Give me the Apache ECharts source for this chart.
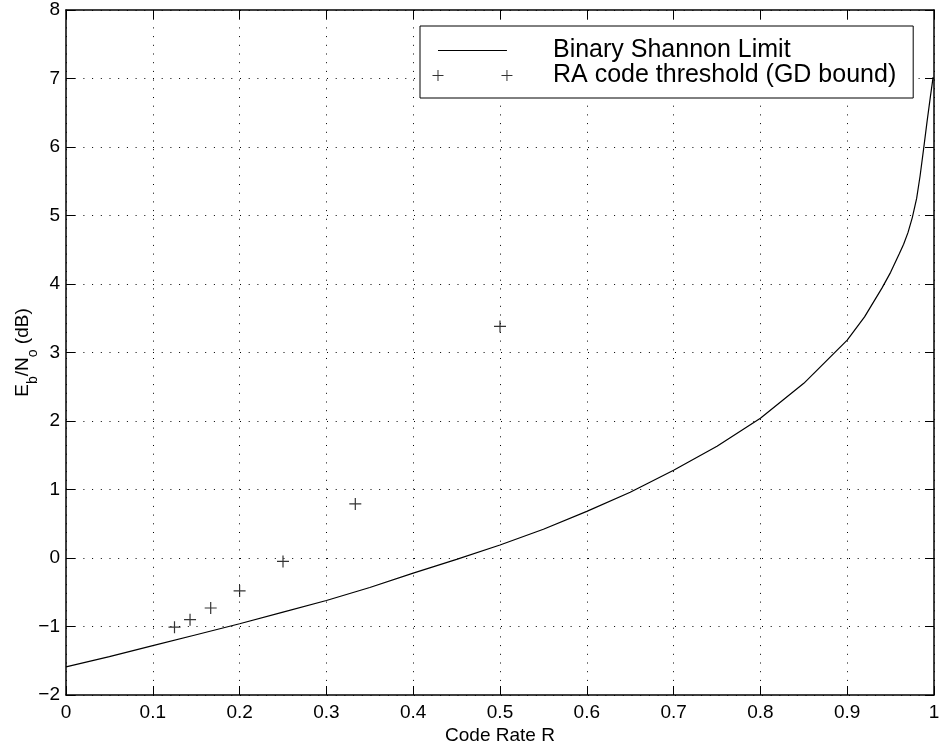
<!DOCTYPE html>
<html>
<head>
<meta charset="utf-8">
<script src="https://cdn.jsdelivr.net/npm/echarts@6/dist/echarts.min.js"></script>
<style>
html,body{margin:0;padding:0;background:#fff;}
#chart{width:939px;height:750px;}
</style>
</head>
<body>
<div id="chart"></div>
<script>
// ---- data ----
const shannonRate = [0, 0.05, 0.1, 0.15, 0.2, 0.25, 0.3, 0.35, 0.4, 0.45, 0.5, 0.55, 0.6, 0.65, 0.7, 0.75, 0.8, 0.85, 0.9, 0.92, 0.94, 0.95, 0.96, 0.965, 0.97, 0.975, 0.98, 0.984, 0.988, 0.992, 0.996, 0.999];
const shannonEbNo = [-1.59, -1.44, -1.28, -1.12, -0.96, -0.79, -0.62, -0.43, -0.22, -0.02, 0.19, 0.42, 0.68, 0.96, 1.28, 1.63, 2.04, 2.55, 3.18, 3.52, 3.94, 4.17, 4.44, 4.58, 4.75, 4.97, 5.25, 5.58, 5.97, 6.37, 6.75, 7.02];
const raRate = [0.125, 0.1429, 0.1667, 0.2, 0.25, 0.3333, 0.5];
const raEbNo = [-1.01, -0.90, -0.73, -0.48, -0.05, 0.79, 3.38];
const seriesNames = ['Binary Shannon Limit', 'RA code threshold (GD bound)'];
const xTickLabels = ['0', '0.1', '0.2', '0.3', '0.4', '0.5', '0.6', '0.7', '0.8', '0.9', '1'];
const yTickLabels = ['\u22122', '\u22121', '0', '1', '2', '3', '4', '5', '6', '7', '8'];
const xTitle = 'Code Rate R';

const FONT = "'Liberation Sans', Arial, Helvetica, sans-serif";
const xMin = 0, xMax = 1, xStep = 0.1;
const yMin = -2, yMax = 8, yStep = 1;

const plusPath = 'path://M0,5.4h12v1.2h-12z M5.4,0h1.2v12h-1.2z';
const legendLineIcon = 'path://M0,0h0.01v0.01h-0.01z M116,14h0.01v0.01h-0.01z M6,6.5h69v1h-69z';
const legendPlusIcon = 'path://M0,0h0.01v0.01h-0.01z M116,14h0.01v0.01h-0.01z M0.5,6.5h11v1h-11z M5.5,1.5h1v11h-1z M69.5,6.5h11v1h-11z M74.5,1.5h1v11h-1z';

const gridDots = {color: '#000', width: 1, type: [1, 7.7]};
const axisLineStyle = {color: '#000', width: 1.5};
const tickStyle = {color: '#000', width: 1};

function xLabel(v) {
  const i = Math.round((v - xMin) / xStep);
  return xTickLabels[i] !== undefined ? xTickLabels[i] : '';
}
function yLabel(v) {
  const i = Math.round((v - yMin) / yStep);
  return yTickLabels[i] !== undefined ? yTickLabels[i] : '';
}

const chart = echarts.init(document.getElementById('chart'), null, {renderer: 'canvas'});
chart.setOption({
  animation: false,
  backgroundColor: '#fff',
  textStyle: {fontFamily: FONT},
  grid: {left: 66, right: 5, top: 10, bottom: 55, containLabel: false, outerBoundsMode: 'none'},
  legend: {
    orient: 'vertical',
    left: 420,
    top: 26,
    padding: [12, 17, 10, 12],
    itemGap: 0,
    itemWidth: 116,
    itemHeight: 14,
    borderColor: '#000',
    borderWidth: 1,
    borderRadius: 0,
    backgroundColor: '#fff',
    selectedMode: false,
    itemStyle: {borderWidth: 0},
    textStyle: {fontSize: 25, lineHeight: 22, color: '#000', fontFamily: FONT},
    data: [
      {name: seriesNames[0], icon: legendLineIcon},
      {name: seriesNames[1], icon: legendPlusIcon}
    ]
  },
  xAxis: [{
    type: 'value', min: xMin, max: xMax, interval: xStep, position: 'bottom',
    name: xTitle, nameLocation: 'middle', nameGap: 31, nameMoveOverlap: false,
    nameTextStyle: {fontSize: 19, color: '#000', fontFamily: FONT},
    axisLine: {show: true, onZero: false, lineStyle: axisLineStyle},
    axisTick: {show: true, inside: true, length: 9, lineStyle: tickStyle},
    axisLabel: {fontSize: 19, color: '#000', margin: 8, formatter: xLabel, fontFamily: FONT},
    splitLine: {show: true, lineStyle: gridDots}
  }, {
    type: 'value', min: xMin, max: xMax, interval: xStep, position: 'top',
    axisLine: {show: true, onZero: false, lineStyle: axisLineStyle},
    axisTick: {show: true, inside: true, length: 9, lineStyle: tickStyle},
    axisLabel: {show: false},
    splitLine: {show: false}
  }],
  yAxis: [{
    type: 'value', min: yMin, max: yMax, interval: yStep, position: 'left',
    name: '{n|E}{s|b}{n|/N}{s|o}{n| (dB)}',
    nameLocation: 'middle', nameRotate: 90, nameGap: 31, nameMoveOverlap: false,
    nameTextStyle: {
      color: '#000', fontFamily: FONT,
      rich: {
        n: {fontSize: 19, color: '#000', fontFamily: FONT, lineHeight: 24, verticalAlign: 'middle'},
        s: {fontSize: 14, color: '#000', fontFamily: FONT, lineHeight: 24, verticalAlign: 'bottom', padding: [0, 0, -5, 0]}
      }
    },
    axisLine: {show: true, onZero: false, lineStyle: axisLineStyle},
    axisTick: {show: true, inside: true, length: 9, lineStyle: tickStyle},
    axisLabel: {fontSize: 19, color: '#000', margin: 6, formatter: yLabel, fontFamily: FONT},
    splitLine: {show: true, lineStyle: gridDots}
  }, {
    type: 'value', min: yMin, max: yMax, interval: yStep, position: 'right',
    axisLine: {show: true, onZero: false, lineStyle: axisLineStyle},
    axisTick: {show: true, inside: true, length: 9, lineStyle: tickStyle},
    axisLabel: {show: false},
    splitLine: {show: false}
  }],
  series: [{
    name: seriesNames[0],
    type: 'line',
    xAxisIndex: 0, yAxisIndex: 0,
    data: shannonRate.map((r, i) => [r, shannonEbNo[i]]),
    showSymbol: false,
    symbol: 'none',
    smooth: false,
    color: '#000',
    lineStyle: {color: '#000', width: 1.2},
    z: 3
  }, {
    name: seriesNames[1],
    type: 'scatter',
    xAxisIndex: 0, yAxisIndex: 0,
    data: raRate.map((r, i) => [r, raEbNo[i]]),
    symbol: plusPath,
    symbolSize: 12,
    color: '#000',
    itemStyle: {color: '#000'},
    z: 4
  }]
});
</script>
</body>
</html>
